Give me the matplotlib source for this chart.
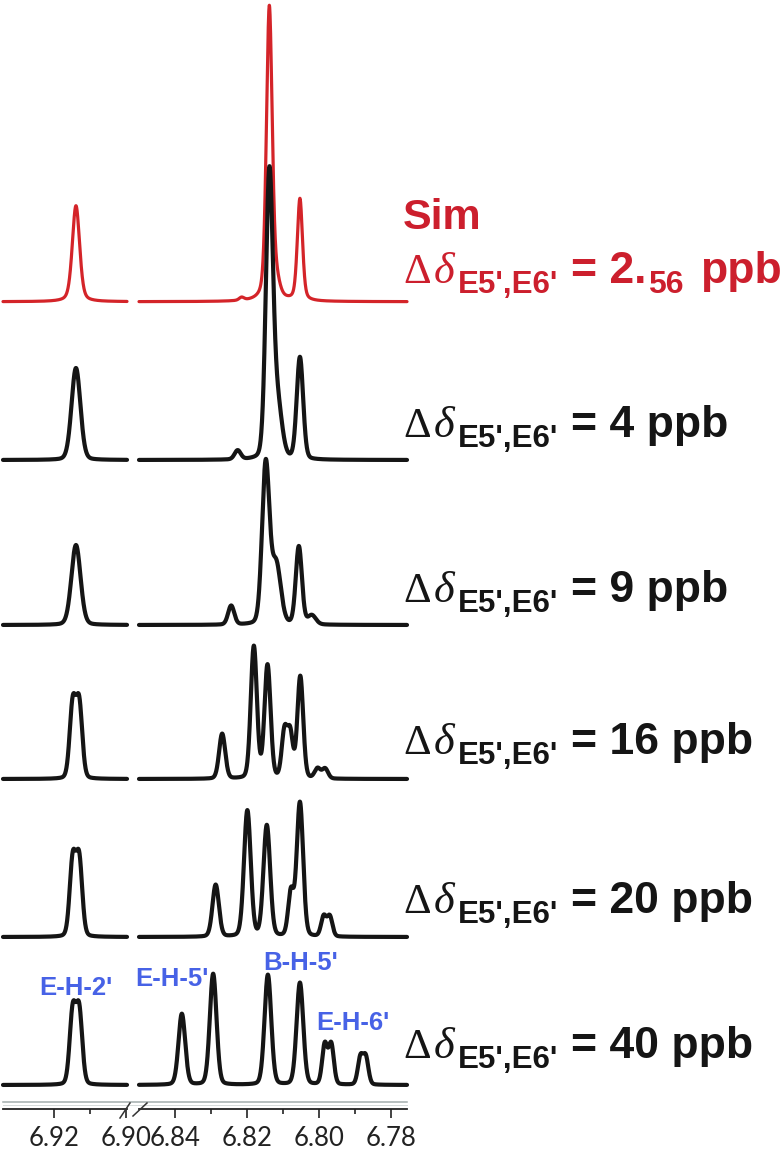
import numpy as np
import matplotlib
matplotlib.use('Agg')
import matplotlib.pyplot as plt
from matplotlib.lines import Line2D

W, H = 784, 1152

# Peak lists: position (ppm), height (px above baseline), width (FWHM, ppm)
sim_ppm = [6.9139, 6.8215, 6.8138, 6.8118, 6.8053]
sim_int = [96, 3, 294, 14, 102]
sim_fw = [0.0024, 0.0016, 0.0019, 0.0022, 0.0017]

d4_ppm = [6.9139, 6.8226, 6.8138, 6.8116, 6.8053]
d4_int = [92, 9, 280, 55, 102]
d4_fw = [0.0029, 0.0020, 0.0023, 0.0030, 0.0021]

d9_ppm = [6.9139, 6.8244, 6.8148, 6.8119, 6.8056, 6.8020]
d9_int = [80, 19, 160, 60, 78, 9]
d9_fw = [0.0030, 0.0020, 0.0024, 0.0030, 0.0020, 0.0026]

d16_ppm = [6.9148, 6.9130, 6.8269, 6.8181, 6.8143, 6.8096, 6.8080, 6.8052, 6.8004, 6.7983]
d16_int = [74, 74, 45, 132, 113, 46, 44, 102, 10, 10]
d16_fw = [0.0020, 0.0020, 0.0020, 0.0020, 0.0020, 0.0018, 0.0018, 0.0019, 0.0019, 0.0019]

d20_ppm = [6.9148, 6.9130, 6.8287, 6.8199, 6.8145, 6.8078, 6.8053, 6.7987, 6.7970]
d20_int = [76, 76, 52, 126, 111, 44, 134, 20, 20]
d20_fw = [0.0020, 0.0020, 0.0021, 0.0022, 0.0022, 0.0018, 0.0021, 0.0017, 0.0017]

d40_ppm = [6.9148, 6.9130, 6.8381, 6.8294, 6.8142, 6.8053, 6.7984, 6.7966, 6.7885, 6.7870]
d40_int = [73, 73, 71, 111, 110, 102, 40, 40, 27, 27]
d40_fw = [0.0020, 0.0020, 0.0022, 0.0022, 0.0022, 0.0022, 0.0017, 0.0017, 0.0017, 0.0017]

spectra = [
    (sim_ppm, sim_int, sim_fw),
    (d4_ppm, d4_int, d4_fw),
    (d9_ppm, d9_int, d9_fw),
    (d16_ppm, d16_int, d16_fw),
    (d20_ppm, d20_int, d20_fw),
    (d40_ppm, d40_int, d40_fw),
]
dd_values = ['2.56', '4', '9', '16', '20', '40']

peak_names = ["E-H-2'", "E-H-5'", "B-H-5'", "E-H-6'"]
peak_name_ppm = [6.9139, 6.8408, 6.8050, 6.7906]

left_major = [6.92, 6.90]
left_minor = [6.91]
right_major = [6.84, 6.82, 6.80, 6.78]
right_minor = [6.83, 6.81, 6.79]

# layout (pixel rows of the picture)
base_px = [301.7, 460, 625, 779, 937, 1085]
label_px = [283, 437, 602, 754, 913, 1058]
name_px = [995, 986, 970, 1030]
spine_px = 1109

RED = '#d42429'
RED_TXT = '#cc1f2d'
BLACK = '#151515'
BLUE = '#4762e6'


def line_shape(x, c, w, eta):
    g = np.exp(-4 * np.log(2) * ((x - c) / w) ** 2)
    l = 1 / (1 + 4 * ((x - c) / w) ** 2)
    return eta * l + (1 - eta) * g


fig = plt.figure(figsize=(W / 100, H / 100), dpi=100)
ax_l = fig.add_axes([3 / W, 0, 124 / W, 1])
ax_r = fig.add_axes([139 / W, 0, 268 / W, 1])
ax_l.set_xlim(6.92 + 51 / 3600, 6.92 - 73 / 3600)
ax_r.set_xlim(6.84 + 36 / 3600, 6.84 - 232 / 3600)

for ax in (ax_l, ax_r):
    ax.set_ylim(0, H)
    ax.patch.set_alpha(0)
    for s in ('top', 'left', 'right'):
        ax.spines[s].set_visible(False)
    ax.spines['bottom'].set_position(('data', H - spine_px))
    ax.spines['bottom'].set_linewidth(1.3)
    ax.spines['bottom'].set_color('#222222')
    ax.set_yticks([])
    ax.tick_params(axis='x', which='major', direction='out', length=6.5, width=1.2,
                   labelsize=18.5, pad=6, color='#222222', labelcolor='#222222')
    ax.tick_params(axis='x', which='minor', direction='out', length=3.6, width=1.2,
                   color='#222222')
    x = np.linspace(*ax.get_xlim(), 1500)
    for i, (ppm, hh, fw) in enumerate(spectra):
        y = np.full_like(x, H - base_px[i])
        eta = 0.35 if i == 0 else 0.15
        for c, h, w in zip(ppm, hh, fw):
            y += h * line_shape(x, c, w, eta)
        if i == 0:
            ax.plot(x, y, color=RED, lw=2.3, solid_capstyle='round', clip_on=False)
        else:
            ax.plot(x, y, color=BLACK, lw=3.0, solid_capstyle='round', clip_on=False)

ax_l.set_xticks(left_major)
ax_l.set_xticks(left_minor, minor=True)
ax_r.set_xticks(right_major)
ax_r.set_xticks(right_minor, minor=True)
for ax in (ax_l, ax_r):
    ax.set_xticklabels(['%.2f' % v for v in ax.get_xticks()], fontfamily='Lato')

# peak names on the bottom trace
for k, (name, p) in enumerate(zip(peak_names, peak_name_ppm)):
    ax = ax_l if k == 0 else ax_r
    ax.text(p, H - name_px[k], name, ha='center', va='baseline', color=BLUE,
            fontsize=18.5, fontweight='bold', family='Liberation Sans')

# grey line above the axis and the break marks
fig.add_artist(Line2D([3 / W, 407 / W], [1 - 1102 / H, 1 - 1102 / H],
                      color='#a3adad', lw=1.1))
fig.add_artist(Line2D([3 / W, 407 / W], [1 - 1105 / H, 1 - 1105 / H],
                      color='#d5dada', lw=0.7))
for xa, ya, xb, yb in [(120, 1118, 130, 1103), (133, 1116, 147, 1103)]:
    fig.add_artist(Line2D([xa / W, xb / W], [1 - ya / H, 1 - yb / H],
                          color='#333333', lw=1.1))

# right-hand labels
renderer = fig.canvas.get_renderer()


def put(x, y, s, size, color, family, weight='normal', style='normal'):
    t = fig.text(x / W, 1 - y / H, s, fontsize=size, color=color, family=family,
                 fontweight=weight, fontstyle=style, ha='left', va='baseline')
    return x + t.get_window_extent(renderer).width


serif = ['Liberation Serif', 'DejaVu Serif']
sans = ['Liberation Sans', 'DejaVu Sans']
fig.text(403 / W, 1 - 229 / H, 'Sim', fontsize=31, color=RED_TXT, family=sans,
         fontweight='bold', ha='left', va='baseline')
for i, val in enumerate(dd_values):
    col = RED_TXT if i == 0 else BLACK
    yb = label_px[i]
    x = put(403, yb, '\u0394', 31, col, serif)
    x = put(x + 3, yb, '\u03b4', 32, col, serif, style='italic')
    x = put(x + 4, yb + 10, "E5',E6'", 22.5, col, sans, weight='bold')
    if '.' in val:
        whole, frac = val.split('.')
        x = put(x + 12, yb, '= ' + whole + '.', 32, col, sans, weight='bold')
        x = put(x + 2, yb + 10, frac, 23, col, sans, weight='bold')
        put(x + 16, yb, 'ppb', 32, col, sans, weight='bold')
    else:
        put(x + 12, yb, '= ' + val + ' ppb', 32, col, sans, weight='bold')

fig.savefig('out.png', dpi=100)
